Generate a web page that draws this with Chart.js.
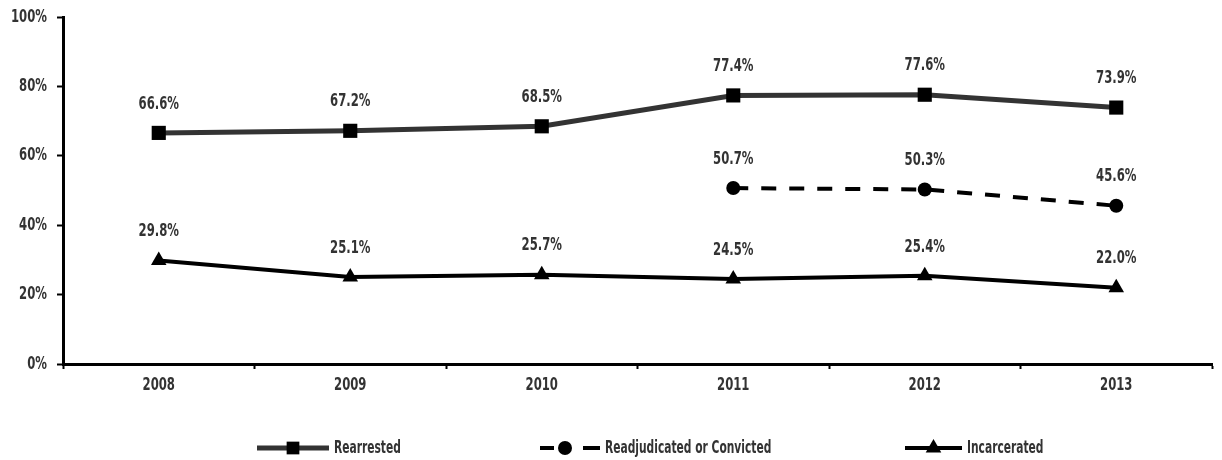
<!DOCTYPE html>
<html>
<head>
<meta charset="utf-8">
<script src="https://cdn.jsdelivr.net/npm/chart.js@4.4.1/dist/chart.umd.min.js"></script>
<style>
  html, body { margin: 0; padding: 0; background: #fff; }
  canvas { display: block; }
</style>
</head>
<body>
<canvas id="myChart" width="1222" height="460"></canvas>
<script>
// chart data
var years = ["2008", "2009", "2010", "2011", "2012", "2013"];
var rearrested = [66.6, 67.2, 68.5, 77.4, 77.6, 73.9];
var readjudicated = [null, null, null, 50.7, 50.3, 45.6];
var incarcerated = [29.8, 25.1, 25.7, 24.5, 25.4, 22.0];
var seriesNames = ["Rearrested", "Readjudicated or Convicted", "Incarcerated"];
var yTicks = [0, 20, 40, 60, 80, 100];

// condensed look: DejaVu Sans Condensed squeezed horizontally
var FONT = "bold 18px 'DejaVu Sans Condensed', 'DejaVu Sans', sans-serif";
var SX = 0.72;
var SX_LEGEND = 0.66;
var TEXT = "#333";

function narrowText(c, str, x, y, align, sx) {
    c.save();
    c.translate(x, y);
    c.scale(sx || SX, 1);
    c.font = FONT;
    c.fillStyle = TEXT;
    c.textAlign = align;
    c.textBaseline = "middle";
    c.fillText(str, 0, 0);
    c.restore();
}

//tick labels, placed by the scales
var axisLabels = {
    id: 'axisLabels',
    afterDraw: function (chart) {
        var c = chart.ctx;
        var ys = chart.scales.y, xs = chart.scales.x;
        ys.ticks.forEach(function (t, i) {
            narrowText(c, t.value + "%", ys.right - 16, ys.getPixelForTick(i), "right");
        });
        xs.ticks.forEach(function (t, i) {
            narrowText(c, xs.getLabelForValue(t.value), xs.getPixelForTick(i), xs.top + 21, "center");
        });
    }
};

//value labels above each point
var valueLabels = {
    id: 'valueLabels',
    afterDatasetsDraw: function (chart) {
        var c = chart.ctx;
        chart.data.datasets.forEach(function (ds, i) {
            chart.getDatasetMeta(i).data.forEach(function (pt, j) {
                var v = ds.data[j];
                if (v === null || pt.skip) return;
                narrowText(c, v.toFixed(1) + "%", pt.x, pt.y - 29, "center");
            });
        });
    }
};

//legend at the bottom, line + marker + name
var bottomLegend = {
    id: 'bottomLegend',
    afterDraw: function (chart) {
        var c = chart.ctx;
        var y = 448;
        var starts = [257, 540, 905];
        c.save();
        chart.data.datasets.forEach(function (ds, i) {
            var x = starts[i];
            var len, mx;
            c.strokeStyle = ds.borderColor;
            c.lineWidth = ds.borderWidth;
            c.beginPath();
            if (ds.borderDash) {
                len = 60; mx = x + 25;
                c.moveTo(x, y); c.lineTo(x + 14, y);
                c.moveTo(x + 43, y); c.lineTo(x + len, y);
            } else {
                len = i === 0 ? 72 : 57;
                mx = x + len / 2;
                c.moveTo(x, y); c.lineTo(x + len, y);
            }
            c.stroke();
            c.fillStyle = ds.pointBackgroundColor;
            var r = ds.pointStyle === 'rect' ? 9 : ds.pointRadius;
            Chart.helpers.drawPoint(c, {pointStyle: ds.pointStyle, radius: r, borderWidth: 0}, mx, y);
            narrowText(c, ds.label, x + len + 5, y, "left", SX_LEGEND);
        });
        c.restore();
    }
};

var ctx = document.getElementById("myChart").getContext("2d");
new Chart(ctx, {
    type: 'line',
    data: {
        labels: years,
        datasets: [
            {
                label: seriesNames[0],
                data: rearrested,
                borderColor: "#333",
                borderWidth: 5,
                pointStyle: 'rect',
                pointRadius: 10,
                pointBackgroundColor: "#000",
                pointBorderColor: "#000",
                pointBorderWidth: 0,
                tension: 0
            },
            {
                label: seriesNames[1],
                data: readjudicated,
                borderColor: "#000",
                borderWidth: 4,
                borderDash: [15, 13],
                pointStyle: 'circle',
                pointRadius: 7,
                pointBackgroundColor: "#000",
                pointBorderColor: "#000",
                pointBorderWidth: 0,
                tension: 0
            },
            {
                label: seriesNames[2],
                data: incarcerated,
                borderColor: "#000",
                borderWidth: 4,
                pointStyle: 'triangle',
                pointRadius: 9,
                pointBackgroundColor: "#000",
                pointBorderColor: "#000",
                pointBorderWidth: 0,
                tension: 0
            }
        ]
    },
    options: {
        responsive: false,
        animation: false,
        layout: {padding: {top: 17, right: 5, left: 0, bottom: 0}},
        plugins: {
            legend: {display: false},
            tooltip: {enabled: false}
        },
        scales: {
            x: {
                offset: true,
                grid: {
                    offset: true,
                    drawOnChartArea: false,
                    drawTicks: true,
                    tickLength: 5,
                    tickWidth: 2,
                    tickColor: "#000"
                },
                border: {display: true, color: "#000", width: 3},
                ticks: {display: false},
                afterFit: function (scale) { scale.height = 96; }
            },
            y: {
                min: 0,
                max: 100,
                afterBuildTicks: function (scale) {
                    scale.ticks = yTicks.map(function (v) { return {value: v}; });
                },
                grid: {
                    drawOnChartArea: false,
                    drawTicks: true,
                    tickLength: 6,
                    tickWidth: 2,
                    tickColor: "#000"
                },
                border: {display: true, color: "#000", width: 3},
                ticks: {display: false},
                afterFit: function (scale) { scale.width = 63; }
            }
        }
    },
    plugins: [axisLabels, valueLabels, bottomLegend]
});
</script>
</body>
</html>
